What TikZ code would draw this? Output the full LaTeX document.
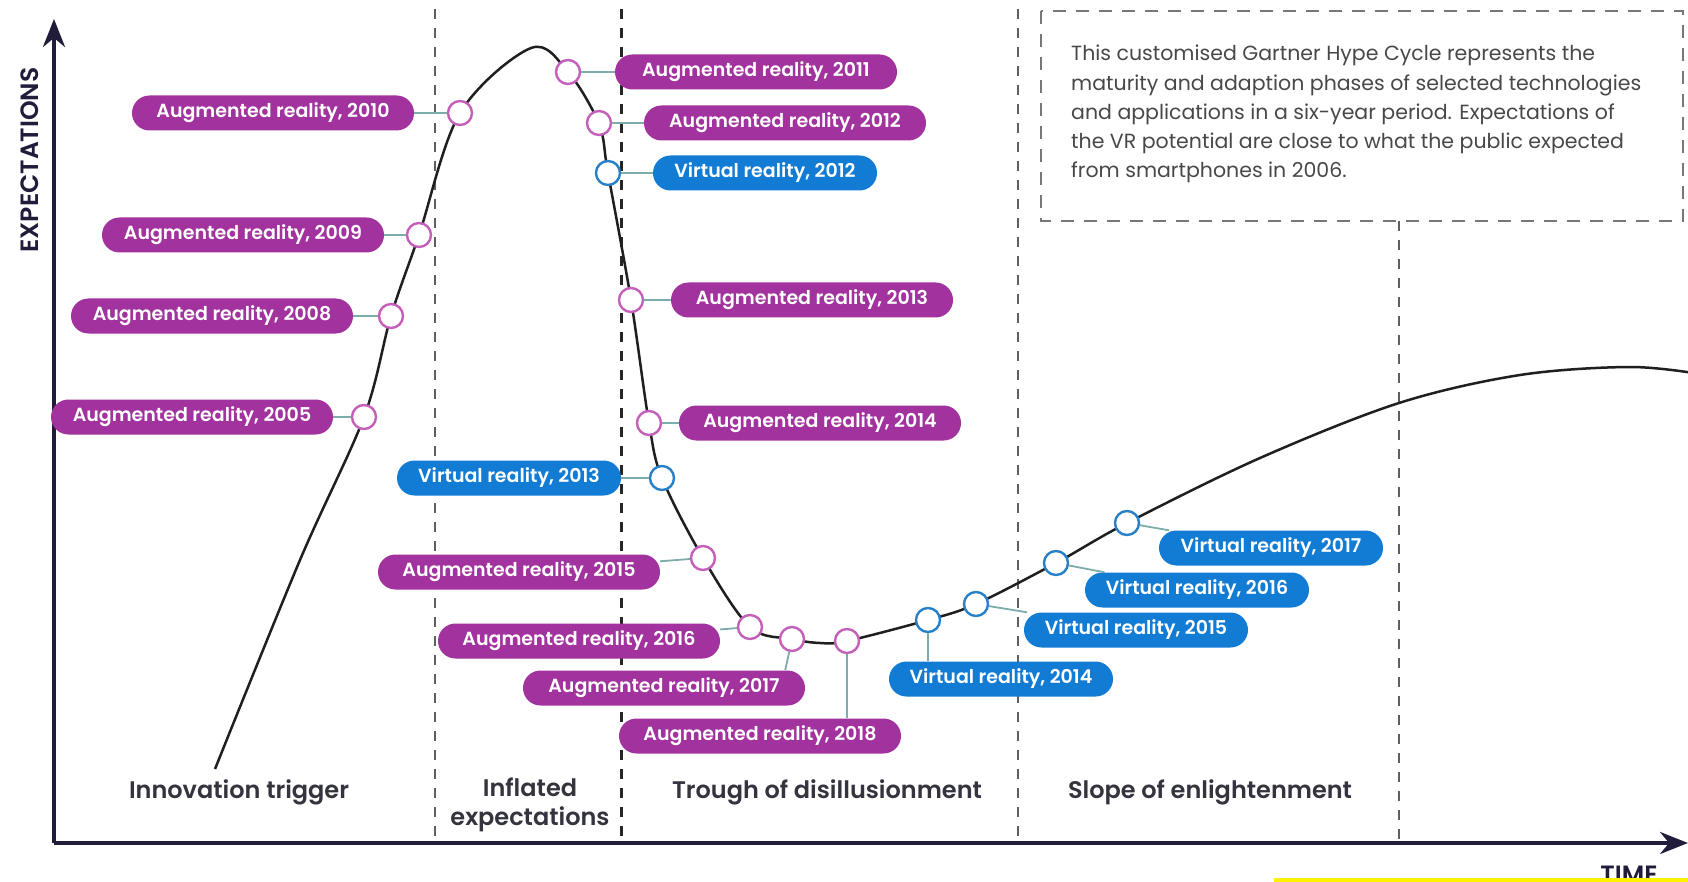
\documentclass[tikz,border=0pt]{standalone}
\usepackage{fontspec}
\setmainfont{Poppins}
\newfontfamily\pillfont{Poppins SemiBold}
\usetikzlibrary{calc}
\usetikzlibrary{arrows.meta}

\definecolor{arPurple}{RGB}{162,50,158}
\definecolor{vrBlue}{RGB}{18,124,212}
\definecolor{arRing}{RGB}{196,96,186}
\definecolor{vrRing}{RGB}{40,128,200}
\definecolor{linkTeal}{RGB}{125,172,172}
\definecolor{axisInk}{RGB}{32,28,58}
\definecolor{phaseInk}{RGB}{52,52,62}
\definecolor{noteInk}{RGB}{72,72,72}
\definecolor{dashGrey}{RGB}{95,95,95}

\begin{document}
\begin{tikzpicture}[x=1pt, y=-1pt,
	ar/.style={rectangle, rounded corners=17.5pt, fill=arPurple, text=white, minimum width=282pt, minimum height=35pt, inner sep=0pt, font=\pillfont\fontsize{19}{22}\selectfont},
	vr/.style={ar, fill=vrBlue, minimum width=224pt},
	arDot/.style={circle, draw=arRing, fill=white, line width=2.4pt, minimum size=24pt, inner sep=0pt},
	vrDot/.style={arDot, draw=vrRing},
	link/.style={linkTeal, line width=1.8pt},
	phaseLine/.style={dashGrey, line width=2.8pt, dash pattern=on 10pt off 9pt},
	phase/.style={text=phaseInk, align=center, font=\pillfont\fontsize{24}{29}\selectfont},
	axisLabel/.style={text=axisInk, font=\pillfont\fontsize{25}{28}\selectfont}]

% Define coordinates.

	\fill[white] (0,0) rectangle (1688,882);
	\useasboundingbox (0,0) rectangle (1688,882);

	%axes
	\coordinate (origin) at (54,843);
	\coordinate (E) at (54,19);
	\coordinate (T) at (1688,843);

% Draw phase borders.

	\draw[phaseLine] (435,9) -- (435,843);
	\draw[phaseLine, black!85, line width=3pt] (621,9) -- (621,843);
	\draw[phaseLine] (1018,9) -- (1018,843);
	\draw[phaseLine] (1399,221) -- (1399,843);

% Draw note.

	\draw[dashGrey!85, line width=2.4pt, dash pattern=on 13pt off 10pt] (1041,11) rectangle (1683,221);
	\node[anchor=north west, inner sep=0pt, align=left, text=noteInk, font=\fontsize{20.5}{29.3}\selectfont] (note) at (1071,45)
		{This customised Gartner Hype Cycle represents the\\
		 maturity and adaption phases of selected technologies\\
		 and applications in a six-year period. Expectations of\\
		 the VR potential are close to what the public expected\\
		 from smartphones in 2006.};

% Draw hype curve.

	\draw[black!88, line width=2.5pt] plot[smooth, tension=0.55] coordinates {
		(215,769) (300,560) (364,417) (391,316) (419,235) (460,113) (531,48) (568,72) (599,124) (608,173)
		(631,300) (649,423) (662,478) (703,558) (750,627) (792,639) (820,643) (847,641)
		(928,620) (976,604) (1056,563) (1127,523) (1260,458) (1399,403) (1520,375) (1630,367) (1700,374)};

% Draw axes.

	\draw[axisInk, line width=4pt, -{Stealth[length=28pt, width=22pt]}] (origin) -- (E);
	\draw[axisInk, line width=4pt, -{Stealth[length=28pt, width=22pt]}] (origin) -- (T);

	\node[axisLabel, rotate=90] (expect) at (30,160) {EXPECTATIONS};
	\node[axisLabel, anchor=base] (time) at (1629,883) {TIME};
	\draw[yellow, line width=4pt] (1274,880) -- (1688,880);

% Draw phase labels.

	\node[phase] (trigger) at (239,792) {Innovation trigger};
	\node[phase] (inflated) at (530,805) {Inflated\\expectations};
	\node[phase] (trough) at (827,792) {Trough of disillusionment};
	\node[phase] (slope) at (1210,792) {Slope of enlightenment};

% Draw year markers.

	\node[arDot] (c05) at (364,417) {};
	\node[arDot] (c08) at (391,316) {};
	\node[arDot] (c09) at (419,235) {};
	\node[arDot] (c10) at (460,113) {};
	\node[arDot] (c11) at (568,72) {};
	\node[arDot] (c12) at (599,123) {};
	\node[vrDot] (v12) at (608,173) {};
	\node[arDot] (c13) at (631,300) {};
	\node[arDot] (c14) at (649,423) {};
	\node[vrDot] (v13) at (662,478) {};
	\node[arDot] (c15) at (703,558) {};
	\node[arDot] (c16) at (750,627) {};
	\node[arDot] (c17) at (792,639) {};
	\node[arDot] (c18) at (847,641) {};
	\node[vrDot] (v14) at (928,620) {};
	\node[vrDot] (v15) at (976,604) {};
	\node[vrDot] (v16) at (1056,563) {};
	\node[vrDot] (v17) at (1127,523) {};

% Draw year labels.

	\node[ar] (p05) at (192,417) {Augmented reality, 2005};
	\node[ar] (p08) at (212,316) {Augmented reality, 2008};
	\node[ar] (p09) at (243,235) {Augmented reality, 2009};
	\node[ar] (p10) at (273,113) {Augmented reality, 2010};
	\node[ar] (p11) at (756,72) {Augmented reality, 2011};
	\node[ar] (p12) at (785,123) {Augmented reality, 2012};
	\node[vr] (q12) at (765,173) {Virtual reality, 2012};
	\node[ar] (p13) at (812,300) {Augmented reality, 2013};
	\node[ar] (p14) at (820,423) {Augmented reality, 2014};
	\node[vr] (q13) at (509,478) {Virtual reality, 2013};
	\node[ar] (p15) at (519,572) {Augmented reality, 2015};
	\node[ar] (p16) at (579,641) {Augmented reality, 2016};
	\node[ar] (p17) at (664,688) {Augmented reality, 2017};
	\node[ar] (p18) at (760,736) {Augmented reality, 2018};
	\node[vr] (q14) at (1001,679) {Virtual reality, 2014};
	\node[vr] (q15) at (1136,630) {Virtual reality, 2015};
	\node[vr] (q16) at (1197,590) {Virtual reality, 2016};
	\node[vr] (q17) at (1271,548) {Virtual reality, 2017};

% Draw label links.

	\draw[link] (p05) -- (c05);
	\draw[link] (p08) -- (c08);
	\draw[link] (p09) -- (c09);
	\draw[link] (p10) -- (c10);
	\draw[link] (c11) -- (p11);
	\draw[link] (c12) -- (p12);
	\draw[link] (v12) -- (q12);
	\draw[link] (c13) -- (p13);
	\draw[link] (c14) -- (p14);
	\draw[link] (q13) -- (v13);
	\draw[link] (p15) -- (c15);
	\draw[link] (p16) -- (c16);
	\draw[link] (c17) -- ([xshift=-20pt]p17.north east);
	\draw[link] (c18) -- (c18 |- p18.north);
	\draw[link] (v14) -- (v14 |- q14.north);
	\draw[link] (v15) -- (q15);
	\draw[link] (v16) -- (q16);
	\draw[link] (v17) -- (q17);

\end{tikzpicture}
\end{document}
